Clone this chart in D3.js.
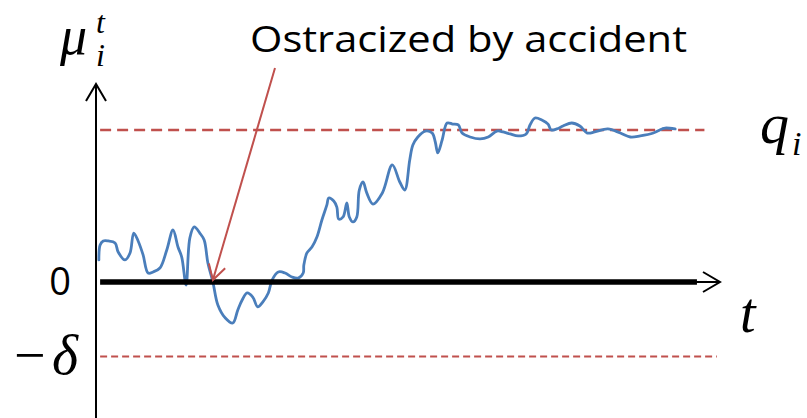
<!DOCTYPE html>
<html>
<head>
<meta charset="utf-8">
<script src="https://cdn.jsdelivr.net/npm/d3@7"></script>
<style>
  html, body { margin: 0; padding: 0; background: #fff; }
  svg { display: block; }
</style>
</head>
<body>
<svg id="chart" width="807" height="418"></svg>
<script>
// Time steps of the sample path
const tVals = [0.3, 0.5, 1.0, 1.8, 2.9, 3.4, 4.5, 5.3, 5.9, 6.6, 7.4, 8.2, 9.0, 10.1, 11.2, 12.2, 13.0, 13.6, 14.3, 14.9, 15.6, 16.5, 17.2, 17.8, 18.6,
  19.4, 20.6, 21.8, 22.6, 23.3, 24.1, 25.0, 25.8, 26.6, 27.5, 28.1, 29.1, 30.2, 31.3, 32.3, 33.1, 33.2, 33.7, 34.5, 35.3, 36.1, 36.9,
  37.2, 38.0, 38.5, 38.8, 39.5, 40.1, 40.5, 41.1, 41.7, 42.1, 42.7, 43.3, 44.3, 45.8, 47.4, 48.6, 49.4, 50.2, 50.7, 51.5, 52.7,
  53.8, 54.3, 54.7, 55.4, 56.2, 57.1, 58.0, 58.6, 59.9, 61.5, 62.8, 64.2, 65.2, 66.3, 67.6, 68.9, 69.5, 70.3, 71.4, 72.4, 72.9,
  73.8, 74.8, 76.2, 77.5, 78.7, 79.9, 82.0, 84.0, 85.6, 87.2, 89.3, 90.7, 91.2, 92.8];
// Estimated reputation mu_i^t at each step
const muVals = [0.145, 0.243, 0.270, 0.270, 0.257, 0.197, 0.145, 0.191, 0.322, 0.270, 0.178, 0.059, 0.066, 0.092, 0.211, 0.342, 0.230, 0.164, -0.020, 0.289, 0.362, 0.322, 0.276, 0.125, 0.0,
  -0.151, -0.237, -0.270, -0.184, -0.118, -0.072, -0.099, -0.164, -0.132, -0.072, 0.013, 0.066, 0.059, 0.033, 0.026, 0.059, 0.112, 0.191, 0.230, 0.296, 0.408, 0.507,
  0.553, 0.533, 0.493, 0.414, 0.428, 0.520, 0.428, 0.395, 0.428, 0.605, 0.658, 0.586, 0.513, 0.586, 0.770, 0.658, 0.605, 0.803, 0.901, 0.954, 0.993,
  0.980, 0.921, 0.849, 0.934, 1.046, 1.039, 1.033, 0.980, 0.954, 0.941, 0.954, 0.993, 0.987, 0.974, 0.961, 0.974, 1.033, 1.079, 1.066, 1.039, 1.000,
  1.007, 1.026, 1.046, 1.026, 0.980, 0.987, 1.007, 0.980, 0.954, 0.961, 0.980, 1.007, 1.013, 1.007];

// Reference levels: true quality q_i and ostracism threshold -delta
const qLevel = 1.0;
const deltaLevel = 0.49;
const ostracizedAt = 18.6;   // first time the path hits zero
const annotationText = "Ostracized by accident";

const svg = d3.select("#chart");
const x = d3.scaleLinear().domain([0, 100]).range([97, 720]);
const y = d3.scaleLinear().domain([0, 1]).range([282, 130]);

const red = "#c0504d";
const blue = "#4a7ebb";

const defs = svg.append("defs");
defs.append("filter").attr("id", "soft")
  .attr("x", "-5%").attr("y", "-200%").attr("width", "110%").attr("height", "500%")
  .append("feGaussianBlur").attr("stdDeviation", 2);

// Threshold lines
svg.append("line")
  .attr("x1", x(0.5)).attr("x2", x(97.5))
  .attr("y1", y(qLevel)).attr("y2", y(qLevel))
  .attr("stroke", red).attr("stroke-width", 2.4)
  .attr("stroke-dasharray", "11,6");

svg.append("line")
  .attr("x1", x(0.5)).attr("x2", x(99.5))
  .attr("y1", y(-deltaLevel)).attr("y2", y(-deltaLevel))
  .attr("stroke", red).attr("stroke-width", 1.8)
  .attr("stroke-dasharray", "7,4");

// Vertical axis with arrow head
svg.append("line")
  .attr("x1", x(0) - 1).attr("x2", x(0) - 1)
  .attr("y1", 84).attr("y2", 418)
  .attr("stroke", "#000").attr("stroke-width", 2);
svg.append("path")
  .attr("d", `M${x(0) - 11},${101} L${x(0) - 1},${84} L${x(0) + 9},${101}`)
  .attr("fill", "none").attr("stroke", "#000").attr("stroke-width", 2);

// Horizontal (zero) axis: shadow, thick bar, thin arrow
svg.append("line")
  .attr("x1", x(0.8)).attr("x2", x(96.5))
  .attr("y1", y(0) + 5).attr("y2", y(0) + 5)
  .attr("stroke", "#000").attr("stroke-opacity", 0.35).attr("stroke-width", 5)
  .attr("filter", "url(#soft)");
svg.append("line")
  .attr("x1", x(100)).attr("x2", x(90))
  .attr("y1", y(0)).attr("y2", y(0))
  .attr("stroke", "#000").attr("stroke-width", 2);
svg.append("path")
  .attr("d", `M${x(100) - 17},${y(0) - 10} L${x(100)},${y(0)} L${x(100) - 17},${y(0) + 10}`)
  .attr("fill", "none").attr("stroke", "#000").attr("stroke-width", 2);

// Sample path of the estimate
const pts = tVals.map((t, i) => [t, muVals[i]]);
svg.append("path")
  .datum(pts)
  .attr("d", d3.line().x(d => x(d[0])).y(d => y(d[1])).curve(d3.curveCatmullRom.alpha(0.5)))
  .attr("fill", "none").attr("stroke", blue).attr("stroke-width", 2.8)
  .attr("stroke-linejoin", "round").attr("stroke-linecap", "round");

svg.append("line")
  .attr("x1", x(0.5)).attr("x2", x(96.3))
  .attr("y1", y(0)).attr("y2", y(0))
  .attr("stroke", "#000").attr("stroke-width", 5.5);

// Annotation arrow
const tip = [x(ostracizedAt), y(0) - 2];
const tail = [275, 68];
const ang = Math.atan2(tail[1] - tip[1], tail[0] - tip[0]);
const armLen = 17, spread = Math.PI / 6;
svg.append("line")
  .attr("x1", tail[0]).attr("y1", tail[1]).attr("x2", tip[0]).attr("y2", tip[1])
  .attr("stroke", red).attr("stroke-width", 2);
svg.append("path")
  .attr("d", `M${tip[0] + armLen * Math.cos(ang + spread)},${tip[1] + armLen * Math.sin(ang + spread)} L${tip[0]},${tip[1]} L${tip[0] + armLen * Math.cos(ang - spread)},${tip[1] + armLen * Math.sin(ang - spread)}`)
  .attr("fill", "none").attr("stroke", red).attr("stroke-width", 2);

svg.append("text")
  .attr("x", 250).attr("y", 52)
  .attr("font-family", "'Open Sans', sans-serif")
  .attr("font-size", 37)
  .attr("textLength", 437)
  .attr("lengthAdjust", "spacingAndGlyphs")
  .attr("fill", "#000")
  .text(annotationText);

// Axis labels
const mathFont = "'Liberation Serif', 'DejaVu Serif', serif";
svg.append("text")
  .attr("x", 60).attr("y", 295)
  .attr("text-anchor", "middle")
  .attr("font-family", "'Open Sans', sans-serif")
  .attr("font-size", 38)
  .text("0");

const mu = svg.append("text").attr("font-family", mathFont).attr("font-style", "italic");
mu.append("tspan").attr("x", 60).attr("y", 54).attr("font-size", 54).text("μ");
mu.append("tspan").attr("x", 96).attr("y", 33).attr("font-size", 32).text("t");
mu.append("tspan").attr("x", 96).attr("y", 66).attr("font-size", 32).text("i");

const q = svg.append("text").attr("font-family", mathFont).attr("font-style", "italic");
q.append("tspan").attr("x", 760).attr("y", 143).attr("font-size", 58).text("q");
q.append("tspan").attr("x", 792).attr("y", 155).attr("font-size", 34).text("i");

svg.append("text")
  .attr("x", 740).attr("y", 332)
  .attr("font-family", mathFont).attr("font-style", "italic")
  .attr("font-size", 56).text("t");

const dl = svg.append("text").attr("font-family", mathFont).attr("font-size", 56);
dl.append("tspan").attr("x", 14).attr("y", 374).text("−");
dl.append("tspan").attr("x", 52).attr("y", 374).attr("font-style", "italic").text("δ");
</script>
</body>
</html>
